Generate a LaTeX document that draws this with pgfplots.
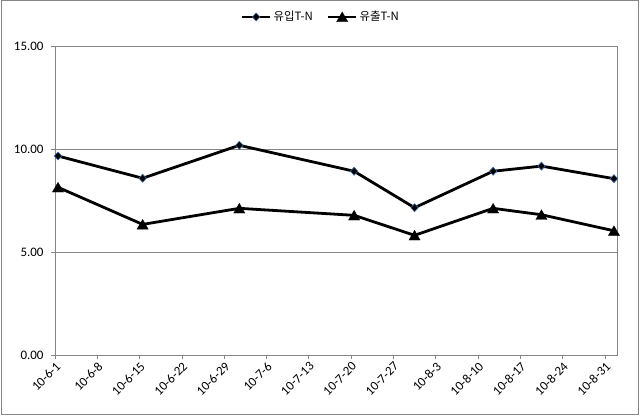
\documentclass[border=0pt]{standalone}
\usepackage{pgfplots}
\pgfplotsset{compat=1.18}
\usepackage{fontspec}
\setmainfont{Carlito}
\newfontfamily\kr{Noto Sans CJK KR}
\definecolor{axgray}{HTML}{868686}
\definecolor{mkedge}{HTML}{3E6CA8}
\begin{document}
\begin{tikzpicture}[x=1bp,y=1bp]
\useasboundingbox (0,0) rectangle (641,415);
\draw[axgray, line width=0.8bp] (1.7,0.8) rectangle (638.3,414.6);
\begin{axis}[
  at={(55bp,60bp)}, anchor=south west,
  scale only axis, width=562bp, height=309bp,
  xmin=0, xmax=93, ymin=0, ymax=15,
  xtick={0,7,...,91},
  xticklabels={10-6-1,10-6-8,10-6-15,10-6-22,10-6-29,10-7-6,10-7-13,10-7-20,10-7-27,10-8-3,10-8-10,10-8-17,10-8-24,10-8-31},
  ytick={0,5,10,15},
  /pgf/number format/assume math mode=true,
  yticklabel style={/pgf/number format/fixed,/pgf/number format/fixed zerofill,/pgf/number format/precision=2, xshift=-4bp},
  tick label style={font=\fontsize{13}{15}\selectfont, text=black},
  x tick label style={rotate=45, anchor=north east, inner sep=1.5bp},
  ymajorgrids,
  major grid style={axgray, line width=0.8bp},
  axis line style={axgray, line width=0.8bp},
  tick style={axgray, line width=0.8bp},
  major tick length=4bp, tick align=outside, tick pos=left,
  legend style={at={(0.473,1.094)}, anchor=center, draw=none, fill=none, legend columns=2,
    font=\kr\fontsize{11.5}{13}\selectfont,
    /tikz/every even column/.append style={column sep=12bp}},
  legend cell align=left,
  legend image code/.code={\draw[mark repeat=2,mark phase=2,#1] plot coordinates {(0bp,0bp) (14bp,0bp) (28bp,0bp)};},
]
\addplot[black, line width=2.8bp, mark=diamond*, mark size=4bp,
  mark options={fill=black, draw=mkedge, line width=0.6bp, xscale=1.25}]
  coordinates {(0.5,9.66) (14.5,8.58) (30.5,10.18) (49.5,8.92) (59.5,7.15) (72.5,8.92) (80.5,9.17) (92.5,8.56)};
\addlegendentry{유입T-N}
\addplot[black, line width=2.8bp, mark=triangle*, mark size=6.5bp,
  mark options={fill=black, draw=black, line width=0.3bp, yshift=-1.5bp}]
  coordinates {(0.5,8.14) (14.5,6.34) (30.5,7.12) (49.5,6.78) (59.5,5.81) (72.5,7.12) (80.5,6.81) (92.5,6.03)};
\addlegendentry{유출T-N}
\end{axis}
\end{tikzpicture}
\end{document}
